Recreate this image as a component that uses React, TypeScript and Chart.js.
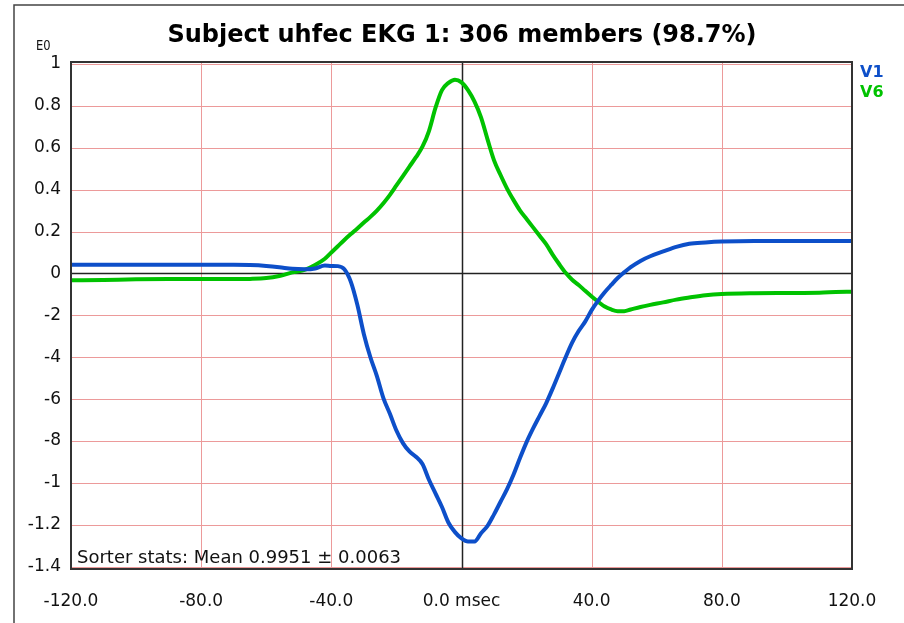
import { useEffect, useRef } from "react";
import { Chart, registerables } from "chart.js";

Chart.register(...registerables);

const TITLE = "Subject uhfec EKG 1: 306 members (98.7%)";
const Y_UNIT = "E0";
const STATS = "Sorter stats: Mean 0.9951 \u00b1 0.0063";
const SERIES_NAMES = ["V1", "V6"];
const SERIES_COLORS = ["#0d4fc9", "#00c200"];

const timesMs = [
  -120, -110, -100, -90, -80, -70, -65, -60, -56, -52, -48, -45, -42, -40,
  -38, -36, -34, -32, -30, -28, -26, -24, -22, -20, -18, -16, -14, -12, -10,
  -8, -6, -4, -2, 0, 2, 4, 6, 8, 10, 12, 14, 16, 18, 20, 22, 24, 26, 28, 30,
  32, 34, 36, 38, 40, 42, 44, 46, 48, 50, 52, 55, 58, 62, 66, 70, 75, 80, 90,
  100, 110, 115, 120,
];

const v1 = [
  0.041, 0.041, 0.041, 0.041, 0.041, 0.041, 0.04, 0.036, 0.03, 0.022, 0.02,
  0.024, 0.038, 0.036, 0.035, 0.02, -0.04, -0.15, -0.29, -0.4, -0.49, -0.595,
  -0.67, -0.75, -0.81, -0.85, -0.875, -0.91, -0.985, -1.05, -1.115, -1.19,
  -1.235, -1.265, -1.28, -1.28, -1.24, -1.205, -1.15, -1.09, -1.03, -0.96,
  -0.88, -0.805, -0.74, -0.68, -0.62, -0.55, -0.475, -0.4, -0.33, -0.275,
  -0.23, -0.175, -0.13, -0.09, -0.055, -0.022, 0.005, 0.03, 0.06, 0.082, 0.105,
  0.127, 0.142, 0.148, 0.152, 0.155, 0.155, 0.155, 0.155, 0.155,
];

const v6 = [
  -0.033, -0.031, -0.028, -0.027, -0.027, -0.027, -0.026, -0.022, -0.012,
  0.005, 0.018, 0.04, 0.07, 0.1, 0.13, 0.16, 0.188, 0.215, 0.243, 0.27, 0.3,
  0.335, 0.375, 0.42, 0.465, 0.51, 0.555, 0.605, 0.68, 0.79, 0.875, 0.91,
  0.925, 0.912, 0.875, 0.82, 0.745, 0.64, 0.54, 0.47, 0.405, 0.35, 0.3, 0.26,
  0.22, 0.18, 0.14, 0.09, 0.045, 0.003, -0.03, -0.055, -0.083, -0.11, -0.135,
  -0.158, -0.172, -0.18, -0.18, -0.172, -0.16, -0.15, -0.138, -0.125, -0.115,
  -0.104, -0.098, -0.094, -0.093, -0.092, -0.089, -0.087,
];

const xTickValues = [-120, -80, -40, 0, 40, 80, 120];
const xTickLabels = ["-120.0", "-80.0", "-40.0", "0.0 msec", "40.0", "80.0", "120.0"];
const yTickValues = [1, 0.8, 0.6, 0.4, 0.2, 0, -0.2, -0.4, -0.6, -0.8, -1, -1.2, -1.4];
const yTickLabels = ["1", "0.8", "0.6", "0.4", "0.2", "0", "-2", "-4", "-6", "-8", "-1", "-1.2", "-1.4"];

const FONT = '"DejaVu Sans", sans-serif';
const GRID_COLOR = "#ec9a9a";

const labelFor = (vals: number[], labels: string[], v: number) => {
  const i = vals.findIndex((t) => Math.abs(t - v) < 1e-6);
  return i >= 0 ? labels[i] : "";
};

export default function App() {
  const ref = useRef<HTMLCanvasElement | null>(null);

  useEffect(() => {
    if (!ref.current) return;
    const decor = {
      id: "decor",
      beforeDraw(chart: any) {
        const c = chart.ctx;
        c.save();
        c.fillStyle = "#ffffff";
        c.fillRect(0, 0, chart.width, chart.height);
        c.strokeStyle = "#444";
        c.lineWidth = 1.5;
        c.beginPath();
        c.moveTo(904, 5);
        c.lineTo(14, 5);
        c.lineTo(14, 623);
        c.stroke();
        c.restore();
      },
      beforeDatasetsDraw(chart: any) {
        const c = chart.ctx;
        const a = chart.chartArea;
        const xs = chart.scales.x;
        const ys = chart.scales.y;
        c.save();
        c.lineWidth = 1;
        c.strokeStyle = GRID_COLOR;
        c.beginPath();
        xTickValues.forEach((v) => {
          if (v === 0) return;
          const px = Math.round(xs.getPixelForValue(v)) + 0.5;
          c.moveTo(px, a.top);
          c.lineTo(px, a.bottom);
        });
        yTickValues.forEach((v) => {
          if (v === 0) return;
          const py = Math.round(ys.getPixelForValue(v)) + 0.5;
          c.moveTo(a.left, py);
          c.lineTo(a.right, py);
        });
        c.stroke();

        const x0 = Math.round(xs.getPixelForValue(0)) + 0.5;
        const y0 = Math.round(ys.getPixelForValue(0)) + 0.5;
        c.strokeStyle = "#222";
        c.lineWidth = 1.5;
        c.beginPath();
        c.moveTo(a.left, y0);
        c.lineTo(a.right, y0);
        c.moveTo(x0, a.top);
        c.lineTo(x0, a.bottom);
        c.stroke();
        c.restore();
      },
      afterDraw(chart: any) {
        const c = chart.ctx;
        const a = chart.chartArea;
        c.save();
        c.strokeStyle = "#333";
        c.lineWidth = 2;
        c.strokeRect(a.left, a.top, a.right - a.left, a.bottom - a.top);

        c.fillStyle = "#000";
        c.font = `bold 24px ${FONT}`;
        c.textAlign = "center";
        c.textBaseline = "alphabetic";
        c.fillText(TITLE, 462, 42);

        c.fillStyle = "#111";
        c.textAlign = "left";
        c.save();
        c.translate(36, 50);
        c.scale(0.82, 1);
        c.font = `14px ${FONT}`;
        c.fillText(Y_UNIT, 0, 0);
        c.restore();

        c.font = `bold 16px ${FONT}`;
        c.fillStyle = SERIES_COLORS[0];
        c.fillText(SERIES_NAMES[0], 860, 77);
        c.fillStyle = SERIES_COLORS[1];
        c.fillText(SERIES_NAMES[1], 860, 97);

        c.font = `18px ${FONT}`;
        c.fillStyle = "#111";
        c.fillText(STATS, 77, 563);
        c.restore();
      },
    };

    const chart = new Chart(ref.current, {
      type: "line",
      data: {
        datasets: [
          {
            label: SERIES_NAMES[0],
            data: timesMs.map((t, i) => ({ x: t, y: v1[i] })),
            borderColor: SERIES_COLORS[0],
            borderWidth: 4,
            pointRadius: 0,
            cubicInterpolationMode: "monotone",
          },
          {
            label: SERIES_NAMES[1],
            data: timesMs.map((t, i) => ({ x: t, y: v6[i] })),
            borderColor: SERIES_COLORS[1],
            borderWidth: 4,
            pointRadius: 0,
            cubicInterpolationMode: "monotone",
          },
        ],
      },
      options: {
        animation: false,
        responsive: false,
        layout: { padding: { left: 0, top: 62, right: 52, bottom: 0 } },
        plugins: {
          legend: { display: false },
          title: { display: false },
          tooltip: { enabled: false },
        },
        scales: {
          x: {
            type: "linear",
            min: -120,
            max: 120,
            afterBuildTicks: (s: any) => {
              s.ticks = xTickValues.map((v) => ({ value: v }));
            },
            afterFit: (s: any) => {
              s.height = 54;
            },
            border: { display: false },
            grid: { display: false, drawTicks: false },
            ticks: {
              autoSkip: false,
              maxRotation: 0,
              padding: 22,
              color: "#111",
              font: { family: FONT, size: 17 },
              callback: (v: any) => labelFor(xTickValues, xTickLabels, Number(v)),
            },
          },
          y: {
            type: "linear",
            min: -1.411,
            max: 1.0095,
            afterBuildTicks: (s: any) => {
              s.ticks = yTickValues.map((v) => ({ value: v }));
            },
            afterFit: (s: any) => {
              s.width = 71;
            },
            border: { display: false },
            grid: { display: false, drawTicks: false },
            ticks: {
              autoSkip: false,
              padding: 10,
              color: "#111",
              font: { family: FONT, size: 17 },
              callback: (v: any) => labelFor(yTickValues, yTickLabels, Number(v)),
            },
          },
        },
      },
      plugins: [decor],
    });
    return () => chart.destroy();
  }, []);

  return (
    <div style={{ position: "fixed", left: 0, top: 0, width: 904, height: 623, background: "#fff" }}>
      <canvas ref={ref} width={904} height={623} style={{ display: "block" }} />
    </div>
  );
}
